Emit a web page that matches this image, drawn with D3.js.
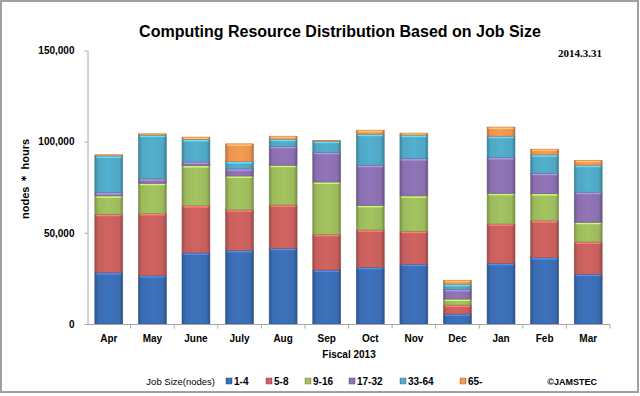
<!DOCTYPE html>
<html>
<head>
<meta charset="utf-8">
<script src="https://cdn.jsdelivr.net/npm/d3@7"></script>
<style>
  body { margin: 0; background: #fff; }
  svg { display: block; font-family: "Liberation Sans", Arial, sans-serif; }
  .axis path, .axis line { stroke: #a6a6a6; }
  .axis text { font-size: 10px; font-weight: bold; fill: #000; }
</style>
</head>
<body>
<svg width="640" height="396"></svg>
<script>
// Data (nodes * hours)
var months = ["Apr", "May", "June", "July", "Aug", "Sep", "Oct", "Nov", "Dec", "Jan", "Feb", "Mar"];
var jobSizes = ["1-4", "5-8", "9-16", "17-32", "33-64", "65-"];

var nodes1to4   = [28200, 26500, 39000, 40400, 41500, 29600, 31100, 32800, 5500, 33300, 36400, 27300];
var nodes5to8   = [32000, 34100, 25900, 22200, 23800, 19600, 20500, 18100, 4900, 21600, 20300, 17700];
var nodes9to16  = [10100, 16600, 22000, 18600, 21800, 28700, 13500, 19400, 3300, 16800, 14800, 10800];
var nodes17to32 = [1800, 2400, 2000, 3900, 10400, 16300, 22000, 20400, 5300, 19600, 11200, 16500];
var nodes33to64 = [20100, 24000, 12300, 4000, 3900, 6100, 17000, 12900, 2800, 11700, 10100, 14800];
var nodes65up   = [600, 700, 1300, 9700, 1600, 300, 2200, 1100, 2200, 5000, 3100, 2700];

var yTicks = [0, 50000, 100000, 150000];

var series = [nodes1to4, nodes5to8, nodes9to16, nodes17to32, nodes33to64, nodes65up];
var colors = ["#3a6cb2", "#c65f5c", "#9cba5c", "#8a6fae", "#4fa7c3", "#ea9450"];

// build rows for d3.stack
var rows = months.map(function(m, i) {
    var row = { month: m };
    jobSizes.forEach(function(s, j) { row[s] = series[j][i]; });
    return row;
});
var stacked = d3.stack().keys(jobSizes)(rows);

var svg = d3.select("svg");

// outer frame
svg.append("rect")
    .attr("x", 1).attr("y", 1)
    .attr("width", 637).attr("height", 391)
    .attr("fill", "#fff")
    .attr("stroke", "#a0a0a0")
    .attr("stroke-width", 2);

// gradients for the bevelled bars
var defs = svg.append("defs");
colors.forEach(function(c, i) {
    var base = d3.color(c);
    var g = defs.append("linearGradient")
        .attr("id", "grad" + i)
        .attr("x1", "0%").attr("x2", "100%").attr("y1", "0%").attr("y2", "0%");
    g.append("stop").attr("offset", "0%").attr("stop-color", base.darker(0.7));
    g.append("stop").attr("offset", "12%").attr("stop-color", base);
    g.append("stop").attr("offset", "50%").attr("stop-color", base.brighter(0.15));
    g.append("stop").attr("offset", "88%").attr("stop-color", base);
    g.append("stop").attr("offset", "100%").attr("stop-color", base.darker(0.8));
});

var x = d3.scaleBand()
    .domain(months)
    .range([87, 610])
    .paddingInner(0.36)
    .paddingOuter(0.18);

var y = d3.scaleLinear()
    .domain([0, 150000])
    .range([324, 50.5]);

// bars
var layers = svg.append("g").selectAll("g")
    .data(stacked)
    .enter().append("g");

layers.selectAll("rect.seg")
    .data(function(d, i) { return d.map(function(p) { return { p: p, k: i }; }); })
    .enter().append("rect")
    .attr("class", "seg")
    .attr("x", function(d) { return x(d.p.data.month); })
    .attr("y", function(d) { return y(d.p[1]); })
    .attr("width", x.bandwidth())
    .attr("height", function(d) { return y(d.p[0]) - y(d.p[1]); })
    .attr("fill", function(d) { return "url(#grad" + d.k + ")"; })
    .attr("stroke", function(d) { return d3.color(colors[d.k]).darker(0.6); })
    .attr("stroke-width", 0.6);

// highlight line at top of each segment
layers.selectAll("rect.hl")
    .data(function(d, i) { return d.map(function(p) { return { p: p, k: i }; }); })
    .enter().append("rect")
    .attr("class", "hl")
    .attr("x", function(d) { return x(d.p.data.month) + 1.5; })
    .attr("y", function(d) { return y(d.p[1]) + 0.5; })
    .attr("width", x.bandwidth() - 3)
    .attr("height", function(d) { return Math.min(1.5, Math.max(0, y(d.p[0]) - y(d.p[1]) - 1)); })
    .attr("fill", function(d) { return d3.color(colors[d.k]).brighter(0.8); });

// y axis
svg.append("g")
    .attr("class", "axis")
    .attr("transform", "translate(87.5,0)")
    .call(d3.axisLeft(y).tickValues(yTicks).tickFormat(d3.format(",")).tickSize(3).tickSizeOuter(0).tickPadding(10));

// x axis with ticks between categories
var xAxis = svg.append("g")
    .attr("class", "axis")
    .attr("transform", "translate(0,324.5)");
xAxis.append("line")
    .attr("x1", 87).attr("x2", 610)
    .attr("stroke", "#a6a6a6");
xAxis.selectAll("line.tk")
    .data(months)
    .enter().append("line")
    .attr("class", "tk")
    .attr("x1", function(d) { return x(d) + x.bandwidth() + x.step() * x.paddingInner() / 2; })
    .attr("x2", function(d) { return x(d) + x.bandwidth() + x.step() * x.paddingInner() / 2; })
    .attr("y1", 0).attr("y2", 4)
    .attr("stroke", "#a6a6a6");
xAxis.selectAll("text")
    .data(months)
    .enter().append("text")
    .attr("x", function(d) { return x(d) + x.bandwidth() / 2; })
    .attr("y", 17)
    .attr("text-anchor", "middle")
    .text(function(d) { return d; });

// title and labels
svg.append("text")
    .attr("x", 340).attr("y", 37)
    .attr("text-anchor", "middle")
    .style("font-size", "16px").style("font-weight", "bold")
    .text("Computing Resource Distribution Based on Job Size");

svg.append("text")
    .attr("x", 602).attr("y", 57)
    .attr("text-anchor", "end")
    .style("font-family", "'Liberation Serif', 'Times New Roman', serif")
    .style("font-size", "11px").style("font-weight", "bold")
    .text("2014.3.31");

svg.append("text")
    .attr("transform", "translate(29,179) rotate(-90)")
    .attr("text-anchor", "middle")
    .style("font-size", "11px").style("font-weight", "bold")
    .text("nodes \uff0a hours");

svg.append("text")
    .attr("x", 349).attr("y", 358)
    .attr("text-anchor", "middle")
    .style("font-size", "10px").style("font-weight", "bold")
    .text("Fiscal 2013");

// legend
var legend = svg.append("g").attr("transform", "translate(0,381)");
legend.append("text")
    .attr("x", 215).attr("y", 3.5)
    .attr("text-anchor", "end")
    .style("font-size", "9.5px")
    .text("Job Size(nodes)");

var legendX = [229, 269, 308, 352, 403, 463];
var items = legend.selectAll("g.item")
    .data(jobSizes)
    .enter().append("g")
    .attr("class", "item")
    .attr("transform", function(d, i) { return "translate(" + legendX[i] + ",0)"; });
items.append("rect")
    .attr("x", -3).attr("y", -3)
    .attr("width", 6).attr("height", 6)
    .attr("fill", function(d, i) { return "url(#grad" + i + ")"; })
    .attr("stroke", function(d, i) { return d3.color(colors[i]).darker(0.6); })
    .attr("stroke-width", 0.5);
items.append("text")
    .attr("x", 5).attr("y", 3.5)
    .style("font-size", "10px").style("font-weight", "bold")
    .text(function(d) { return d; });

legend.append("text")
    .attr("x", 597).attr("y", 3.5)
    .attr("text-anchor", "end")
    .style("font-size", "9px").style("font-weight", "bold")
    .text("\u00a9JAMSTEC");
</script>
</body>
</html>
